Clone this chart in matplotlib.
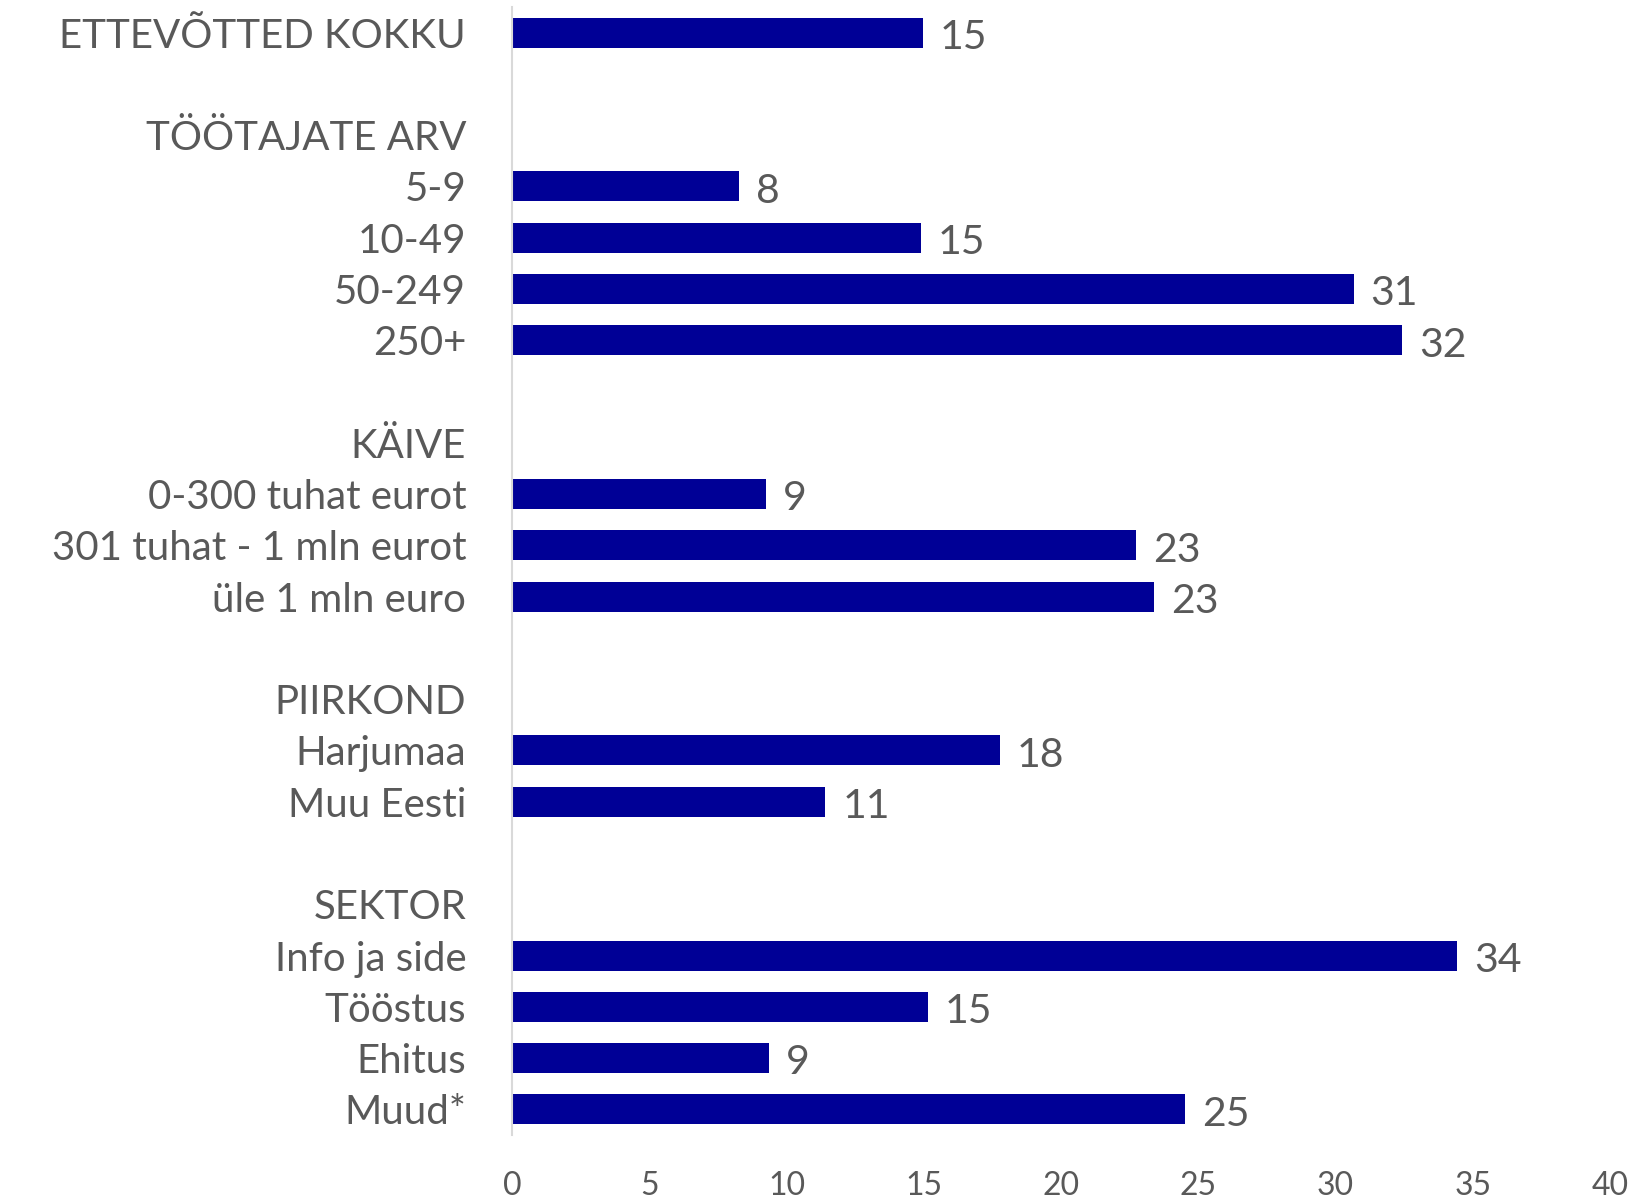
import matplotlib
matplotlib.use("Agg")
import matplotlib.pyplot as plt
import numpy as np

plt.rcParams['font.family'] = ['Lato', 'DejaVu Sans']

categories = [
    "ETTEVÕTTED KOKKU", "",
    "TÖÖTAJATE ARV", "5-9", "10-49", "50-249", "250+", "",
    "KÄIVE", "0-300 tuhat eurot", "301 tuhat - 1 mln eurot", "üle 1 mln euro", "",
    "PIIRKOND", "Harjumaa", "Muu Eesti", "",
    "SEKTOR", "Info ja side", "Tööstus", "Ehitus", "Muud*",
]
values = [
    14.98, None,
    None, 8.28, 14.90, 30.67, 32.43, None,
    None, 9.25, 22.75, 23.40, None,
    None, 17.79, 11.42, None,
    None, 34.43, 15.17, 9.37, 24.53,
]
xticks = [0, 5, 10, 15, 20, 25, 30, 35, 40]

bar_color = "#000096"
text_color = "#595959"

fig = plt.figure(figsize=(16.32, 11.99), dpi=100)
ax = fig.add_axes([512/1632, 1 - 1135/1199, (1610-512)/1632, (1135-7)/1199])

ypos = np.arange(len(categories))
for y, v in zip(ypos, values):
    if v is None:
        continue
    ax.barh(y, v, height=0.585, color=bar_color, edgecolor="none")
    ax.annotate(f"{round(v)}", xy=(v, y), xytext=(12, -3.5), textcoords="offset points",
                ha="left", va="center", fontsize=29.5, color=text_color)

ax.set_xlim(0, 40)
ax.set_ylim(len(categories) - 0.5, -0.5)
ax.set_yticks(ypos)
ax.set_yticklabels(categories, fontsize=29, color=text_color)
ax.set_xticks(xticks)
ax.set_xticklabels([str(t) for t in xticks], fontsize=23, color=text_color)
ax.tick_params(axis="y", length=0, pad=33)
ax.tick_params(axis="x", length=0, pad=26)
for s in ["top", "right", "bottom"]:
    ax.spines[s].set_visible(False)
ax.spines["left"].set_color("#d9d9d9")
ax.spines["left"].set_linewidth(1.5)

fig.savefig("out.png", dpi=100)
